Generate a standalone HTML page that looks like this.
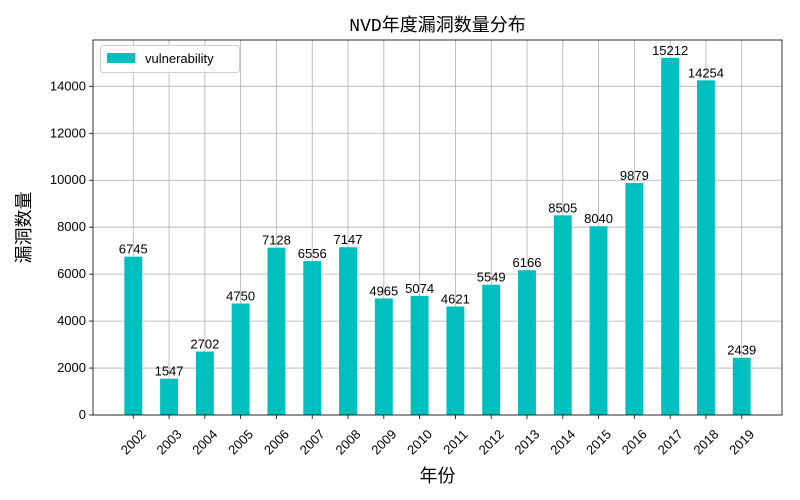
<!DOCTYPE html>
<html><head><meta charset="utf-8"><style>
body{margin:0;background:#fff;}
svg{display:block;font-family:"Liberation Sans","Noto Sans CJK SC",sans-serif;}
</style></head><body>
<svg id="chart" width="800" height="500"></svg>
<script>
const years=["2002","2003","2004","2005","2006","2007","2008","2009","2010","2011","2012","2013","2014","2015","2016","2017","2018","2019"];
const counts=[6745,1547,2702,4750,7128,6556,7147,4965,5074,4621,5549,6166,8505,8040,9879,15212,14254,2439];
const yTicks=[0,2000,4000,6000,8000,10000,12000,14000];

const NS="http://www.w3.org/2000/svg";
const svg=document.getElementById('chart');
const L=93,R=782,T=40,B=415;
const xmin=-1.125,xmax=years.length-1+1.125;
const ymax=Math.max(...counts)*1.05;
const xs=i=>L+(i-xmin)/(xmax-xmin)*(R-L);
const ys=v=>B-v/ymax*(B-T);
function mk(tag,attrs,parent){const e=document.createElementNS(NS,tag);for(const k in attrs)e.setAttribute(k,attrs[k]);(parent||svg).appendChild(e);return e;}

const grid=mk('g',{});


yTicks.forEach(v=>{
  const l=mk('line',{x1:L,x2:R,y1:ys(v),y2:ys(v),stroke:'#b0b0b0','stroke-width':0.8},grid);
  
  
  const t=mk('text',{x:L-7,y:ys(v)+4,'text-anchor':'end','font-size':13,fill:'#000'});
  t.textContent=v;
  
  
  mk('line',{x1:L-4,x2:L,y1:ys(v),y2:ys(v),stroke:'#000','stroke-width':0.8});
});
years.forEach((y,i)=>{
  const x=xs(i);
  const l=mk('line',{x1:x,x2:x,y1:T,y2:B,stroke:'#b0b0b0','stroke-width':0.8},grid);
  
  
  mk('line',{x1:x,x2:x,y1:B,y2:B+4,stroke:'#000','stroke-width':0.8});
  const cy=B+27;
  const t=mk('text',{x:x,y:cy+4.5,'text-anchor':'middle','font-size':13,fill:'#000',transform:`rotate(-45 ${x} ${cy})`});
  t.textContent=y;
  
  
});
const bw=(xs(1)-xs(0))*0.5;
counts.forEach((v,i)=>{
  const r=mk('rect',{x:xs(i)-bw/2,y:ys(v),width:bw,height:B-ys(v),fill:'#00bfbf'});
  
  
  const t=mk('text',{x:xs(i),y:ys(v)-3,'text-anchor':'middle','font-size':13,fill:'#000'});
  t.textContent=v;
  
  
});
const frame=mk('rect',{x:L,y:T,width:R-L,height:B-T,fill:'none',stroke:'#000','stroke-width':0.8});



const title=mk('text',{x:(L+R)/2,y:31,'text-anchor':'middle','font-size':18,fill:'#000','font-family':'"Liberation Mono","Noto Sans CJK SC",monospace'});
title.textContent='NVD年度漏洞数量分布';


const xt=mk('text',{x:(L+R)/2,y:482,'text-anchor':'middle','font-size':18,fill:'#000'});
xt.textContent='年份';


const yt=mk('text',{x:24,y:(T+B)/2,'text-anchor':'middle','dominant-baseline':'central','font-size':18,fill:'#000',transform:`rotate(-90 24 ${(T+B)/2})`});
yt.textContent='漏洞数量';



const leg=mk('g',{});


mk('rect',{x:100.5,y:45.5,width:139,height:27,rx:3,fill:'#fff','fill-opacity':0.8,stroke:'#ccc'},leg);
const sw=mk('rect',{x:107,y:53,width:28,height:10,fill:'#00bfbf'},leg);


const lt=mk('text',{x:145,y:63,'font-size':13,fill:'#000'},leg);
lt.textContent='vulnerability';


</script>
</body></html>
